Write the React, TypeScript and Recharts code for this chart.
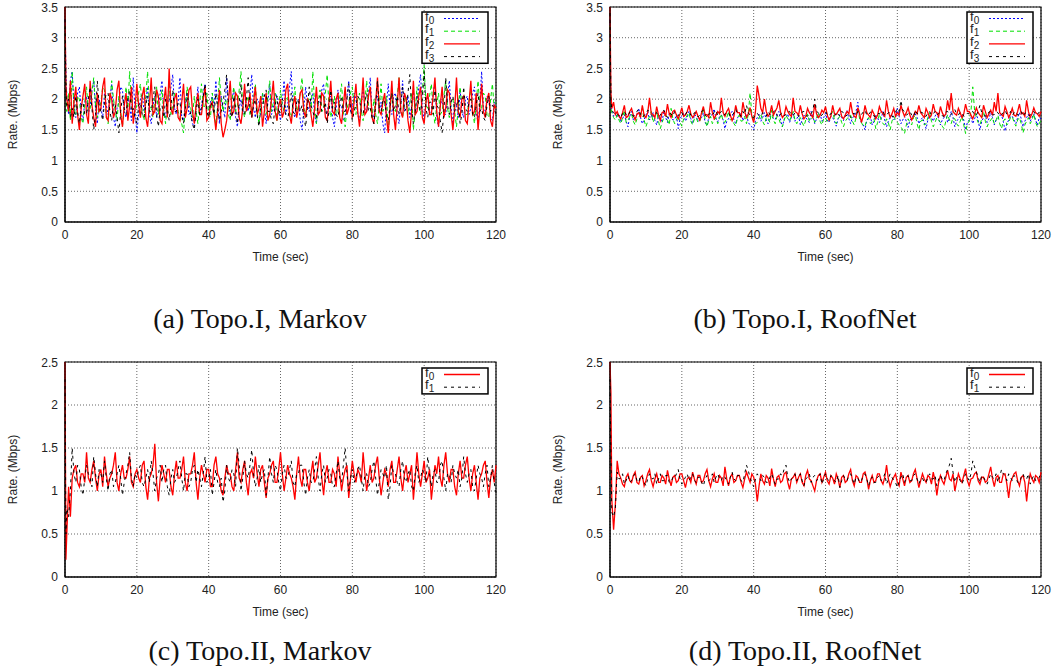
import React from 'react';
import { LineChart, Line, XAxis, YAxis, CartesianGrid, ReferenceArea } from 'recharts';

// sample times (sec): dense at start-up, then every half second
const TIME = [
  0, 0.25, 0.5, 1, 1.5,
  2, 2.5, 3, 3.5, 4, 4.5, 5, 5.5, 6, 6.5,
  7, 7.5, 8, 8.5, 9, 9.5, 10, 10.5, 11, 11.5,
  12, 12.5, 13, 13.5, 14, 14.5, 15, 15.5, 16, 16.5,
  17, 17.5, 18, 18.5, 19, 19.5, 20, 20.5, 21, 21.5,
  22, 22.5, 23, 23.5, 24, 24.5, 25, 25.5, 26, 26.5,
  27, 27.5, 28, 28.5, 29, 29.5, 30, 30.5, 31, 31.5,
  32, 32.5, 33, 33.5, 34, 34.5, 35, 35.5, 36, 36.5,
  37, 37.5, 38, 38.5, 39, 39.5, 40, 40.5, 41, 41.5,
  42, 42.5, 43, 43.5, 44, 44.5, 45, 45.5, 46, 46.5,
  47, 47.5, 48, 48.5, 49, 49.5, 50, 50.5, 51, 51.5,
  52, 52.5, 53, 53.5, 54, 54.5, 55, 55.5, 56, 56.5,
  57, 57.5, 58, 58.5, 59, 59.5, 60, 60.5, 61, 61.5,
  62, 62.5, 63, 63.5, 64, 64.5, 65, 65.5, 66, 66.5,
  67, 67.5, 68, 68.5, 69, 69.5, 70, 70.5, 71, 71.5,
  72, 72.5, 73, 73.5, 74, 74.5, 75, 75.5, 76, 76.5,
  77, 77.5, 78, 78.5, 79, 79.5, 80, 80.5, 81, 81.5,
  82, 82.5, 83, 83.5, 84, 84.5, 85, 85.5, 86, 86.5,
  87, 87.5, 88, 88.5, 89, 89.5, 90, 90.5, 91, 91.5,
  92, 92.5, 93, 93.5, 94, 94.5, 95, 95.5, 96, 96.5,
  97, 97.5, 98, 98.5, 99, 99.5, 100, 100.5, 101, 101.5,
  102, 102.5, 103, 103.5, 104, 104.5, 105, 105.5, 106, 106.5,
  107, 107.5, 108, 108.5, 109, 109.5, 110, 110.5, 111, 111.5,
  112, 112.5, 113, 113.5, 114, 114.5, 115, 115.5, 116, 116.5,
  117, 117.5, 118, 118.5, 119, 119.5, 120,
];

const X_TICKS = [0, 20, 40, 60, 80, 100, 120];
const Y_TICKS_I = [0, 0.5, 1, 1.5, 2, 2.5, 3, 3.5];
const Y_TICKS_II = [0, 0.5, 1, 1.5, 2, 2.5];

// (a) Topo.I, Markov
const A_F0 = [
  3.3, 2.5, 2.05, 1.75, 2.3,
  2.45, 1.9, 1.7, 2.1, 2.2, 1.8, 1.65, 1.95, 2.05, 1.75,
  1.9, 2.15, 2.3, 1.85, 1.6, 2.0, 1.85, 1.7, 2.1, 1.9,
  1.75, 2.0, 2.25, 1.7, 1.55, 1.85, 1.95, 2.2, 2.15, 1.8,
  1.7, 2.05, 1.9, 1.65, 2.35, 1.8, 1.45, 1.75, 2.0, 2.1,
  1.8, 1.95, 2.2, 1.75, 1.6, 1.9, 2.05, 1.7, 1.85, 2.1,
  2.3, 1.8, 1.7, 2.0, 1.95, 2.2, 2.4, 1.85, 1.75, 1.95,
  2.35, 1.7, 1.65, 1.95, 2.1, 1.75, 1.8, 1.6, 1.55, 1.9,
  2.2, 1.75, 1.9, 2.1, 2.25, 1.8, 1.7, 1.95, 2.05, 1.85,
  2.3, 1.9, 1.6, 2.05, 1.85, 1.7, 2.35, 1.95, 1.75, 2.0,
  2.15, 1.7, 1.55, 1.85, 2.0, 1.75, 2.2, 1.9, 1.8, 2.1,
  2.4, 1.85, 1.7, 2.0, 1.95, 1.75, 2.1, 1.85, 1.6, 1.95,
  2.25, 1.75, 1.85, 2.1, 2.05, 1.8, 1.65, 1.95, 2.3, 1.75,
  1.9, 2.2, 2.45, 1.8, 1.7, 1.95, 2.0, 1.65, 1.5, 1.85,
  2.2, 1.9, 1.8, 2.0, 2.1, 1.75, 1.6, 1.9, 1.95, 2.15,
  2.25, 1.8, 1.75, 2.0, 2.05, 1.7, 1.55, 1.85, 2.15, 1.9,
  1.9, 1.65, 1.7, 2.05, 2.3, 1.8, 1.85, 2.1, 2.0, 1.75,
  1.65, 1.95, 2.2, 1.85, 1.8, 2.1, 2.35, 1.75, 1.7, 2.0,
  2.05, 1.8, 1.95, 1.6, 1.45, 1.9, 2.25, 1.85, 1.75, 2.05,
  2.1, 1.75, 1.6, 1.95, 2.3, 1.8, 1.85, 2.05, 1.7, 1.9,
  2.15, 1.8, 1.9, 2.2, 2.4, 1.85, 1.65, 1.95, 2.05, 1.75,
  1.8, 2.1, 2.25, 1.7, 1.55, 1.9, 2.0, 1.75, 1.75, 2.05,
  2.3, 1.85, 1.6, 1.95, 1.9, 1.7, 2.15, 1.8, 1.7, 2.0,
  2.05, 1.75, 1.85, 2.1, 2.2, 1.8, 1.6, 1.95, 2.45, 1.85,
  1.75, 2.05, 2.0, 1.7, 1.65, 1.95, 1.9,
];
const A_F1 = [
  3.2, 2.3, 1.8, 2.1, 1.65,
  2.45, 1.85, 1.75, 2.05, 2.0, 1.7, 1.6, 1.95, 2.2, 1.8,
  1.85, 2.1, 2.35, 1.9, 1.7, 1.85, 1.95, 2.2, 2.15, 1.75,
  1.6, 1.95, 2.3, 2.0, 1.8, 1.65, 2.05, 1.8, 1.55, 1.9,
  2.2, 1.85, 2.45, 2.0, 1.7, 1.8, 1.9, 2.1, 2.25, 1.8,
  1.65, 2.05, 2.45, 1.9, 1.85, 1.7, 2.0, 2.2, 1.75, 1.95,
  2.15, 1.8, 1.6, 1.9, 2.3, 1.75, 1.9, 2.1, 2.05, 1.8,
  1.7, 1.6, 1.45, 1.85, 2.2, 1.95, 1.85, 1.7, 2.05, 1.8,
  1.6, 1.95, 2.25, 1.85, 1.9, 2.1, 1.75, 1.7, 2.1, 1.85,
  1.55, 1.9, 2.35, 2.0, 1.8, 1.95, 2.0, 1.75, 1.65, 2.0,
  2.2, 1.8, 1.9, 2.15, 2.45, 1.85, 1.7, 1.95, 2.05, 1.75,
  1.85, 2.0, 2.25, 1.8, 1.6, 1.9, 2.1, 1.85, 1.75, 2.05,
  2.3, 1.8, 1.95, 2.1, 1.65, 1.85, 2.15, 1.9, 1.8, 2.0,
  2.05, 1.8, 1.7, 1.95, 2.2, 1.75, 1.9, 2.1, 2.35, 1.85,
  1.75, 2.0, 2.0, 1.8, 2.45, 1.9, 1.6, 1.95, 2.15, 1.8,
  1.85, 2.1, 2.4, 1.9, 1.7, 1.85, 2.05, 1.75, 1.8, 2.0,
  2.25, 1.8, 1.55, 1.85, 1.95, 2.1, 2.2, 1.85, 1.75, 2.0,
  2.1, 1.8, 1.65, 1.95, 2.3, 1.9, 1.85, 1.7, 2.0, 1.75,
  1.6, 1.9, 2.25, 1.8, 1.9, 2.05, 1.5, 1.8, 2.15, 1.85,
  1.8, 2.05, 2.35, 1.85, 1.7, 1.95, 2.05, 1.75, 1.95, 2.1,
  1.5, 1.8, 2.2, 1.9, 1.75, 2.1, 2.55, 1.9, 1.85, 2.05,
  2.25, 1.8, 1.6, 1.9, 2.1, 1.75, 1.8, 2.05, 2.3, 1.85,
  1.7, 1.95, 2.0, 1.8, 1.55, 1.85, 2.2, 1.9, 1.9, 1.75,
  1.75, 2.0, 2.15, 1.8, 1.6, 1.95, 2.3, 1.85, 1.85, 2.1,
  2.05, 1.75, 1.7, 2.0, 2.25, 1.85, 1.95,
];
const A_F2 = [
  3.5, 2.2, 2.0, 1.8, 2.3,
  1.6, 1.95, 2.2, 1.75, 1.5, 1.85, 2.05, 2.25, 1.75, 1.6,
  2.3, 1.9, 1.7, 1.55, 2.1, 1.8, 1.85, 2.2, 2.35, 1.7,
  1.65, 2.1, 2.0, 1.7, 1.8, 2.15, 2.3, 1.75, 1.55, 1.9,
  2.1, 1.65, 1.9, 2.2, 1.6, 1.85, 2.25, 1.9, 1.7, 2.05,
  2.2, 1.7, 1.55, 1.9, 2.35, 1.75, 1.8, 2.15, 2.05, 1.65,
  1.6, 1.95, 2.2, 1.7, 2.5, 1.85, 1.75, 2.0, 2.1, 1.7,
  1.65, 1.95, 2.25, 1.7, 1.85, 2.15, 2.2, 1.8, 1.6, 1.9,
  2.1, 1.75, 1.75, 2.0, 2.2, 1.65, 1.7, 1.9, 1.95, 1.75,
  1.5, 1.8, 2.15, 1.6, 1.38, 1.5, 1.65, 1.95, 2.3, 1.75,
  1.8, 2.1, 2.05, 1.7, 1.6, 1.85, 2.25, 1.8, 1.9, 2.1,
  1.7, 1.95, 2.2, 1.75, 1.85, 2.05, 1.55, 1.8, 2.1, 1.65,
  1.75, 2.0, 2.3, 1.8, 1.65, 1.9, 2.0, 1.7, 1.8, 2.15,
  2.25, 1.75, 1.6, 1.9, 2.05, 1.7, 1.85, 2.1, 2.15, 1.8,
  1.7, 2.0, 1.95, 1.75, 1.55, 1.85, 2.2, 1.75, 1.8, 2.1,
  2.05, 1.7, 1.65, 1.95, 2.3, 1.8, 1.75, 2.0, 2.1, 1.7,
  1.6, 1.9, 2.2, 1.75, 1.85, 2.05, 1.7, 1.95, 2.25, 1.8,
  1.55, 1.9, 2.35, 1.75, 1.8, 2.05, 2.2, 1.7, 1.6, 1.95,
  2.35, 1.8, 1.75, 1.95, 2.1, 1.7, 1.45, 1.85, 2.3, 1.75,
  1.5, 1.9, 2.35, 1.8, 1.7, 2.1, 2.0, 1.65, 1.45, 1.8,
  2.3, 1.75, 1.8, 2.05, 2.2, 1.7, 1.6, 1.95, 2.1, 1.75,
  1.75, 2.05, 2.35, 1.8, 1.55, 1.9, 2.2, 1.7, 1.85, 2.15,
  2.1, 1.75, 1.5, 1.85, 2.35, 1.8, 1.7, 2.0, 2.05, 1.65,
  1.6, 1.95, 2.3, 1.75, 1.8, 2.1, 1.5, 1.85, 2.25, 1.8,
  1.7, 2.0, 2.1, 1.65, 1.55, 1.9, 1.85,
];
const A_F3 = [
  3.3, 2.1, 1.9, 2.0, 1.7,
  1.85, 1.7, 2.05, 1.8, 1.6, 1.9, 1.95, 1.75, 1.75, 2.0,
  2.2, 1.85, 1.5, 1.75, 2.3, 1.9, 1.8, 1.65, 1.95, 2.1,
  2.1, 1.8, 1.65, 1.95, 1.9, 1.7, 1.45, 1.8, 2.05, 1.85,
  1.75, 2.0, 2.15, 1.8, 1.85, 1.7, 1.6, 1.9, 1.95, 1.75,
  1.7, 1.9, 2.05, 1.8, 1.8, 2.0, 2.2, 1.75, 1.55, 1.85,
  1.9, 1.7, 2.0, 1.85, 1.65, 1.9, 2.15, 1.8, 1.8, 1.95,
  1.95, 1.75, 1.6, 1.85, 2.1, 1.9, 1.75, 1.6, 1.5, 1.8,
  2.0, 1.75, 1.85, 2.05, 2.25, 1.8, 1.7, 1.95, 1.9, 1.75,
  2.1, 1.85, 1.65, 1.8, 1.95, 2.15, 2.4, 1.9, 1.8, 1.7,
  2.05, 1.85, 1.6, 1.95, 2.25, 1.8, 1.75, 2.0, 2.35, 1.85,
  1.7, 1.9, 2.0, 1.75, 1.55, 1.85, 1.9, 2.05, 2.15, 1.8,
  1.8, 1.65, 1.6, 1.9, 2.05, 1.75, 1.85, 2.0, 1.95, 1.7,
  1.65, 1.9, 2.1, 1.8, 1.75, 1.95, 2.0, 1.8, 1.9, 1.7,
  1.55, 1.85, 2.2, 1.9, 1.8, 1.7, 1.7, 1.95, 2.05, 1.8,
  1.85, 1.95, 1.6, 1.8, 2.15, 1.85, 1.95, 1.75, 1.7, 1.9,
  2.05, 1.8, 1.8, 2.0, 2.25, 1.85, 1.65, 1.8, 1.9, 2.05,
  2.0, 1.8, 1.75, 1.95, 2.1, 1.8, 1.85, 1.7, 1.6, 1.9,
  2.3, 1.85, 1.8, 2.0, 1.95, 1.75, 1.65, 1.9, 2.1, 1.8,
  1.9, 2.05, 1.75, 1.9, 2.2, 1.8, 1.85, 2.1, 2.4, 1.85,
  1.6, 1.8, 2.05, 1.9, 1.8, 2.0, 2.45, 1.85, 1.7, 1.95,
  1.95, 1.75, 2.15, 1.9, 1.85, 1.65, 1.45, 1.8, 2.35, 1.9,
  1.75, 1.95, 2.05, 1.8, 1.9, 2.0, 1.6, 1.75, 2.2, 1.85,
  1.8, 1.95, 2.0, 1.75, 1.7, 1.9, 2.1, 1.8, 1.85, 1.7,
  1.65, 1.9, 2.05, 1.8, 1.9, 1.85, 1.75,
];

// (b) Topo.I, RoofNet
const B_F0 = [
  3.3, 2.0, 1.8, 1.72, 1.78,
  1.7, 1.76, 1.62, 1.68, 1.75, 1.64, 1.55, 1.72, 1.8, 1.66,
  1.68, 1.74, 1.85, 1.7, 1.6, 1.67, 1.74, 1.8, 1.66, 1.72,
  1.78, 1.65, 1.58, 1.73, 1.7, 1.62, 1.82, 1.7, 1.62, 1.76,
  1.75, 1.66, 1.67, 1.74, 1.52, 1.68, 1.73, 1.78, 1.64, 1.7,
  1.8, 1.68, 1.6, 1.75, 1.72, 1.64, 1.66, 1.7, 1.78, 1.62,
  1.57, 1.7, 1.7, 1.76, 1.84, 1.68, 1.63, 1.72, 1.74, 1.66,
  1.52, 1.64, 1.68, 1.75, 1.8, 1.66, 1.6, 1.7, 1.72, 1.78,
  1.65, 1.7, 1.76, 1.62, 1.58, 1.55, 1.5, 1.64, 1.7, 1.75,
  1.64, 1.7, 1.78, 1.66, 1.6, 1.72, 1.73, 1.68, 1.67, 1.75,
  1.8, 1.66, 1.55, 1.68, 1.7, 1.76, 1.62, 1.7, 1.76, 1.64,
  1.68, 1.74, 1.58, 1.66, 1.74, 1.7, 1.66, 1.62, 1.8, 1.72,
  1.6, 1.68, 1.72, 1.76, 1.64, 1.7, 1.77, 1.66, 1.62, 1.72,
  1.7, 1.64, 1.56, 1.68, 1.75, 1.7, 1.65, 1.74, 1.82, 1.68,
  1.6, 1.7, 1.72, 1.8, 1.95, 1.7, 1.62, 1.58, 1.5, 1.66,
  1.68, 1.72, 1.58, 1.64, 1.74, 1.7, 1.62, 1.68, 1.8, 1.66,
  1.55, 1.64, 1.7, 1.76, 1.66, 1.7, 1.85, 1.72, 1.6, 1.66,
  1.72, 1.64, 1.54, 1.66, 1.68, 1.74, 1.76, 1.7, 1.6, 1.66,
  1.7, 1.62, 1.52, 1.66, 1.74, 1.7, 1.64, 1.72, 1.78, 1.68,
  1.58, 1.66, 1.7, 1.76, 1.62, 1.68, 1.8, 1.7, 1.55, 1.64,
  1.68, 1.72, 1.74, 1.66, 1.5, 1.62, 1.66, 1.7, 1.6, 1.68,
  1.76, 1.66, 1.5, 1.64, 1.7, 1.74, 1.62, 1.68, 1.78, 1.7,
  1.58, 1.66, 1.68, 1.74, 1.74, 1.64, 1.48, 1.6, 1.66, 1.72,
  1.72, 1.66, 1.6, 1.7, 1.78, 1.68, 1.55, 1.64, 1.7, 1.76,
  1.64, 1.7, 1.76, 1.66, 1.58, 1.7, 1.68,
];
const B_F1 = [
  3.2, 1.95, 1.78, 1.7, 1.66,
  1.74, 1.66, 1.6, 1.7, 1.82, 1.62, 1.65, 1.72, 1.76, 1.64,
  1.58, 1.68, 1.7, 1.76, 1.85, 1.66, 1.55, 1.64, 1.72, 1.8,
  1.62, 1.7, 1.8, 1.64, 1.52, 1.62, 1.7, 1.75, 1.66, 1.58,
  1.85, 1.68, 1.6, 1.66, 1.74, 1.62, 1.56, 1.68, 1.68, 1.74,
  1.78, 1.64, 1.58, 1.68, 1.7, 1.62, 1.64, 1.74, 1.86, 1.66,
  1.55, 1.66, 1.72, 1.6, 1.66, 1.7, 1.6, 1.68, 1.76, 1.64,
  1.62, 1.7, 1.8, 1.66, 1.68, 1.6, 1.56, 1.7, 1.74, 1.64,
  1.65, 1.72, 1.6, 1.75, 2.1, 1.74, 1.7, 1.6, 1.62, 1.7,
  1.76, 1.64, 1.58, 1.7, 1.7, 1.62, 1.82, 1.66, 1.6, 1.72,
  1.68, 1.6, 1.55, 1.66, 1.74, 1.68, 1.64, 1.72, 1.8, 1.66,
  1.6, 1.68, 1.7, 1.62, 1.56, 1.66, 1.76, 1.64, 1.66, 1.72,
  1.62, 1.7, 1.78, 1.64, 1.58, 1.68, 1.7, 1.62, 1.65, 1.74,
  1.8, 1.66, 1.6, 1.68, 1.72, 1.62, 1.55, 1.64, 1.68, 1.72,
  1.74, 1.64, 1.58, 1.7, 1.85, 1.68, 1.62, 1.56, 1.56, 1.66,
  1.7, 1.6, 1.64, 1.68, 1.52, 1.62, 1.76, 1.66, 1.6, 1.58,
  1.68, 1.62, 1.5, 1.64, 1.72, 1.66, 1.62, 1.58, 1.55, 1.5,
  1.44, 1.58, 1.68, 1.62, 1.58, 1.7, 1.74, 1.6, 1.5, 1.64,
  1.66, 1.58, 1.6, 1.7, 1.78, 1.64, 1.55, 1.62, 1.7, 1.66,
  1.62, 1.56, 1.52, 1.64, 1.75, 1.66, 1.6, 1.7, 1.68, 1.6,
  1.56, 1.64, 1.72, 1.58, 1.44, 1.6, 1.64, 1.8, 2.2, 1.82,
  1.7, 1.62, 1.58, 1.68, 1.8, 1.64, 1.55, 1.62, 1.66, 1.7,
  1.6, 1.66, 1.74, 1.6, 1.52, 1.64, 1.68, 1.58, 1.62, 1.7,
  1.72, 1.62, 1.56, 1.66, 1.7, 1.6, 1.45, 1.58, 1.64, 1.7,
  1.6, 1.66, 1.76, 1.62, 1.55, 1.6, 1.66,
];
const B_F2 = [
  3.5, 2.1, 1.85, 1.95, 1.75,
  1.8, 1.72, 1.68, 1.78, 1.9, 1.7, 1.72, 1.8, 1.85, 1.74,
  1.66, 1.76, 1.78, 1.7, 1.9, 1.74, 1.7, 1.78, 2.02, 1.76,
  1.75, 1.7, 1.88, 1.74, 1.65, 1.78, 1.8, 1.72, 1.92, 1.76,
  1.7, 1.8, 1.82, 1.74, 1.68, 1.76, 1.86, 1.72, 1.74, 1.8,
  1.9, 1.76, 1.7, 1.74, 1.8, 1.72, 1.66, 1.78, 1.88, 1.74,
  1.75, 1.7, 1.95, 1.78, 1.68, 1.74, 1.8, 1.76, 2.02, 1.78,
  1.72, 1.8, 1.85, 1.74, 1.65, 1.72, 1.9, 1.78, 1.78, 1.7,
  1.95, 1.8, 1.7, 1.76, 1.86, 1.72, 1.62, 1.8, 2.22, 2.05,
  1.85, 1.78, 2.0, 1.8, 1.72, 1.76, 1.9, 1.74, 1.8, 1.86,
  1.98, 1.78, 1.7, 1.74, 1.88, 1.8, 1.75, 1.72, 2.02, 1.8,
  1.78, 1.74, 1.9, 1.76, 1.68, 1.72, 1.85, 1.78, 1.74, 1.7,
  1.92, 1.76, 1.7, 1.74, 1.82, 1.78, 1.88, 1.74, 1.66, 1.72,
  1.9, 1.76, 1.75, 1.8, 1.85, 1.72, 1.68, 1.74, 1.8, 1.76,
  1.95, 1.78, 1.72, 1.7, 1.86, 1.76, 1.62, 1.72, 1.9, 1.78,
  1.74, 1.7, 1.82, 1.76, 1.68, 1.74, 1.88, 1.8, 1.76, 1.72,
  1.98, 1.8, 1.7, 1.76, 1.85, 1.72, 1.78, 1.74, 1.9, 1.8,
  1.72, 1.78, 1.86, 1.74, 1.66, 1.72, 1.8, 1.76, 1.9, 1.78,
  1.74, 1.7, 1.85, 1.78, 1.7, 1.74, 1.92, 1.8, 1.78, 1.72,
  1.88, 1.78, 1.72, 1.76, 1.98, 1.82, 2.1, 1.8, 1.76, 1.74,
  1.85, 1.78, 1.7, 1.76, 1.92, 1.8, 1.8, 1.74, 1.68, 1.76,
  1.86, 1.78, 1.74, 1.7, 1.9, 1.8, 1.7, 1.76, 1.82, 1.74,
  1.95, 1.8, 2.1, 1.78, 1.75, 1.72, 1.88, 1.8, 1.7, 1.76,
  1.85, 1.74, 1.72, 1.8, 1.92, 1.76, 1.78, 1.72, 1.98, 1.8,
  1.7, 1.76, 1.86, 1.78, 1.76, 1.72, 1.8,
];
const B_F3 = [
  3.4, 2.0, 1.82, 1.78, 1.74,
  1.76, 1.73, 1.7, 1.77, 1.8, 1.75, 1.72, 1.79, 1.78, 1.72,
  1.74, 1.8, 1.84, 1.75, 1.7, 1.74, 1.76, 1.82, 1.8, 1.74,
  1.72, 1.76, 1.78, 1.71, 1.74, 1.8, 1.82, 1.75, 1.7, 1.77,
  1.76, 1.72, 1.8, 1.76, 1.73, 1.79, 1.78, 1.72, 1.75, 1.8,
  1.8, 1.74, 1.72, 1.78, 1.77, 1.71, 1.74, 1.8, 1.82, 1.75,
  1.7, 1.76, 1.76, 1.73, 1.79, 1.82, 1.73, 1.77, 1.8, 1.74,
  1.75, 1.79, 1.78, 1.72, 1.72, 1.78, 1.84, 1.76, 1.76, 1.72,
  1.8, 1.75, 1.9, 1.78, 1.74, 1.7, 1.7, 1.76, 1.77, 1.73,
  1.72, 1.78, 1.76, 1.72, 1.8, 1.75, 1.74, 1.79, 1.82, 1.74,
  1.7, 1.76, 1.78, 1.73, 1.75, 1.8, 1.8, 1.74, 1.73, 1.78,
  1.77, 1.72, 1.74, 1.79, 1.8, 1.75, 1.72, 1.77, 1.76, 1.82,
  2.0, 1.8, 1.78, 1.72, 1.74, 1.78, 1.8, 1.75, 1.72, 1.77,
  1.76, 1.72, 1.79, 1.75, 1.73, 1.8, 1.78, 1.72, 1.74, 1.77,
  1.7, 1.76, 1.77, 1.73, 1.8, 1.76, 1.75, 1.79, 1.82, 1.74,
  1.74, 1.79, 1.78, 1.72, 1.72, 1.77, 1.76, 1.8, 1.8, 1.73,
  1.74, 1.78, 1.78, 1.72, 1.72, 1.79, 1.85, 1.8, 1.98, 1.82,
  1.8, 1.74, 1.76, 1.8, 1.74, 1.71, 1.82, 1.77, 1.75, 1.79,
  1.78, 1.72, 1.72, 1.78, 1.8, 1.74, 1.76, 1.8, 1.74, 1.77,
  1.78, 1.73, 1.72, 1.79, 1.8, 1.74, 1.75, 1.8, 1.83, 1.76,
  1.74, 1.79, 1.78, 1.72, 1.72, 1.77, 1.76, 1.8, 1.8, 1.74,
  1.74, 1.8, 1.9, 1.78, 1.77, 1.72, 1.72, 1.79, 1.8, 1.74,
  1.75, 1.8, 1.78, 1.73, 1.74, 1.78, 1.82, 1.75, 1.76, 1.8,
  1.73, 1.78, 1.8, 1.74, 1.76, 1.8, 1.72, 1.77, 1.78, 1.73,
  1.74, 1.79, 1.8, 1.74, 1.75, 1.79, 1.77,
];

// (c) Topo.II, Markov
const C_F0 = [
  2.5, 0.2, 0.5, 1.05, 0.7,
  1.15, 1.25, 1.3, 1.1, 1.05, 1.2, 1.2, 1.1, 1.45, 1.15,
  1.1, 1.25, 1.35, 1.15, 1.0, 1.2, 1.25, 1.05, 1.4, 1.2,
  1.05, 1.15, 1.2, 1.3, 1.45, 1.1, 1.0, 1.2, 1.3, 1.15,
  1.15, 1.25, 1.4, 1.1, 1.05, 1.2, 1.25, 1.15, 1.1, 1.3,
  1.35, 1.05, 0.9, 1.15, 1.2, 1.3, 1.55, 1.1, 0.88, 1.15,
  1.3, 1.2, 1.1, 1.25, 1.25, 1.05, 0.95, 1.2, 1.35, 1.15,
  1.15, 1.25, 1.4, 1.1, 1.0, 1.2, 1.2, 1.3, 1.45, 1.1,
  0.9, 1.15, 1.3, 1.2, 1.1, 1.25, 1.25, 1.05, 1.05, 1.3,
  1.4, 1.2, 1.15, 1.0, 0.95, 1.15, 1.3, 1.2, 1.2, 1.05,
  1.0, 1.25, 1.45, 1.15, 1.1, 1.25, 1.35, 1.1, 0.95, 1.2,
  1.25, 1.15, 1.4, 1.2, 1.05, 1.25, 1.3, 1.1, 0.92, 1.15,
  1.2, 1.3, 1.35, 1.1, 1.1, 1.25, 1.45, 1.2, 1.0, 1.15,
  1.3, 1.2, 1.15, 1.05, 0.9, 1.2, 1.4, 1.15, 1.05, 1.25,
  1.25, 1.1, 1.0, 1.2, 1.35, 1.1, 1.15, 1.3, 1.45, 1.15,
  0.95, 1.2, 1.3, 1.1, 1.1, 1.25, 1.2, 1.05, 1.4, 1.2,
  1.0, 1.15, 1.25, 1.3, 0.92, 1.15, 1.35, 1.2, 1.1, 1.25,
  1.2, 1.1, 1.45, 1.2, 1.0, 1.15, 1.3, 1.1, 1.15, 1.3,
  1.4, 1.15, 0.95, 1.1, 1.25, 1.2, 1.05, 1.25, 1.35, 1.1,
  1.1, 1.25, 1.4, 1.15, 1.0, 1.2, 1.3, 1.1, 1.2, 1.3,
  0.9, 1.15, 1.45, 1.2, 1.05, 1.2, 1.35, 1.1, 1.15, 1.25,
  0.9, 1.1, 1.3, 1.2, 1.4, 1.15, 1.05, 1.3, 1.45, 1.2,
  1.1, 1.25, 1.25, 1.05, 0.95, 1.2, 1.35, 1.15, 1.15, 1.3,
  1.4, 1.15, 1.0, 1.2, 1.3, 1.1, 0.9, 1.15, 1.2, 1.3,
  1.35, 1.1, 0.92, 1.15, 1.25, 1.1, 1.3,
];
const C_F1 = [
  2.3, 0.5, 0.8, 0.7, 1.0,
  1.5, 1.2, 1.1, 1.3, 1.25, 1.05, 0.95, 1.15, 1.3, 1.2,
  1.15, 1.05, 1.4, 1.2, 1.05, 1.25, 1.2, 1.1, 1.35, 1.15,
  1.0, 1.2, 1.25, 1.05, 1.1, 1.2, 1.3, 1.15, 0.95, 1.1,
  1.2, 1.3, 1.45, 1.15, 1.05, 1.2, 1.15, 1.25, 1.3, 1.1,
  1.05, 1.15, 1.25, 1.1, 1.35, 1.2, 1.0, 1.15, 1.2, 1.3,
  1.1, 1.25, 1.3, 1.05, 0.95, 1.15, 1.25, 1.1, 1.15, 1.25,
  1.35, 1.15, 1.0, 1.2, 1.2, 1.05, 1.1, 1.25, 1.3, 1.1,
  1.25, 1.15, 1.05, 1.2, 1.4, 1.1, 1.15, 1.25, 0.95, 1.1,
  1.25, 1.1, 1.05, 1.15, 0.87, 1.0, 1.3, 1.15, 1.1, 1.25,
  1.2, 1.05, 1.5, 1.3, 1.0, 1.15, 1.35, 1.2, 1.15, 1.3,
  1.48, 1.2, 1.05, 1.15, 1.3, 1.1, 1.2, 1.25, 0.95, 1.15,
  1.4, 1.2, 1.1, 1.3, 1.25, 1.1, 1.0, 1.2, 1.3, 1.15,
  1.15, 1.25, 1.35, 1.1, 1.05, 1.2, 1.2, 1.3, 1.3, 1.1,
  0.95, 1.15, 1.25, 1.1, 1.1, 1.25, 1.4, 1.15, 1.0, 1.2,
  1.3, 1.1, 1.15, 1.25, 1.2, 1.05, 1.05, 1.2, 1.35, 1.15,
  1.1, 1.3, 1.5, 1.2, 1.0, 1.15, 1.25, 1.1, 1.15, 1.25,
  1.3, 1.15, 1.0, 1.2, 1.2, 1.05, 1.1, 1.25, 1.35, 1.15,
  0.95, 1.1, 1.25, 1.2, 1.15, 1.3, 0.9, 1.05, 1.3, 1.2,
  1.2, 1.1, 1.05, 1.25, 1.35, 1.15, 1.1, 1.2, 1.25, 1.05,
  1.0, 1.2, 1.3, 1.1, 1.15, 1.25, 1.2, 1.1, 1.4, 1.2,
  1.05, 1.2, 1.25, 1.1, 1.1, 1.3, 1.35, 1.15, 1.0, 1.2,
  1.2, 1.1, 1.3, 1.2, 1.15, 1.25, 1.05, 1.15, 1.4, 1.2,
  1.1, 1.2, 1.25, 1.05, 1.0, 1.15, 1.3, 1.2, 1.15, 1.05,
  1.2, 1.3, 1.05, 1.15, 1.3, 1.1, 0.98,
];

// (d) Topo.II, RoofNet
const D_F0 = [
  2.5, 2.15, 0.9, 0.55, 0.85,
  1.35, 1.2, 1.15, 1.08, 1.05, 1.16, 1.2, 1.12, 1.1, 1.18,
  1.22, 1.1, 1.08, 1.16, 1.18, 1.06, 1.12, 1.2, 1.25, 1.12,
  1.05, 1.14, 1.2, 1.1, 1.1, 1.18, 1.15, 1.08, 1.24, 1.14,
  1.06, 1.16, 1.18, 1.1, 1.12, 1.2, 1.2, 1.12, 1.04, 1.14,
  1.16, 1.1, 1.22, 1.14, 1.08, 1.18, 1.18, 1.1, 1.12, 1.2,
  1.25, 1.12, 1.05, 1.14, 1.2, 1.1, 1.1, 1.18, 1.15, 1.06,
  1.28, 1.14, 1.06, 1.16, 1.2, 1.1, 1.12, 1.18, 1.18, 1.1,
  1.04, 1.14, 1.22, 1.16, 1.1, 1.2, 1.16, 1.08, 0.88, 1.06,
  1.2, 1.12, 1.08, 1.18, 1.15, 1.06, 1.26, 1.14, 1.05, 1.16,
  1.18, 1.1, 1.12, 1.2, 1.22, 1.1, 1.02, 1.14, 1.16, 1.2,
  1.1, 1.16, 1.2, 1.1, 1.06, 1.18, 1.24, 1.14, 1.12, 1.06,
  1.0, 1.12, 1.18, 1.2, 1.1, 1.16, 1.22, 1.12, 1.08, 1.18,
  1.15, 1.08, 1.2, 1.14, 1.04, 1.16, 1.18, 1.1, 1.12, 1.2,
  1.25, 1.12, 1.06, 1.18, 1.16, 1.1, 1.1, 1.2, 1.22, 1.14,
  1.02, 1.12, 1.18, 1.1, 1.12, 1.2, 1.2, 1.12, 1.08, 1.16,
  1.3, 1.14, 1.05, 1.12, 1.16, 1.2, 1.1, 1.06, 1.22, 1.14,
  1.06, 1.16, 1.18, 1.1, 1.12, 1.2, 1.25, 1.14, 1.04, 1.12,
  1.2, 1.14, 1.1, 1.18, 1.16, 1.08, 1.22, 1.12, 0.95, 1.1,
  1.18, 1.12, 1.08, 1.16, 1.24, 1.14, 1.12, 1.2, 1.0, 1.1,
  1.2, 1.14, 1.1, 1.18, 1.26, 1.12, 1.06, 1.14, 1.15, 1.2,
  1.22, 1.12, 1.08, 1.16, 1.16, 1.1, 1.12, 1.2, 1.28, 1.14,
  1.05, 1.16, 1.18, 1.1, 1.1, 1.2, 1.2, 1.08, 0.92, 1.1,
  1.15, 1.2, 1.22, 1.12, 1.06, 1.16, 1.18, 1.1, 0.88, 1.08,
  1.2, 1.14, 1.1, 1.18, 1.16, 1.1, 1.22,
];
const D_F1 = [
  2.3, 1.4, 0.75, 0.7, 0.8,
  1.22, 1.14, 1.15, 1.2, 1.08, 1.12, 1.18, 1.1, 1.12, 1.17,
  1.2, 1.12, 1.1, 1.18, 1.16, 1.1, 1.06, 1.14, 1.2, 1.15,
  1.14, 1.2, 1.08, 1.14, 1.2, 1.12, 1.12, 1.18, 1.18, 1.1,
  1.1, 1.16, 1.15, 1.2, 1.25, 1.14, 1.08, 1.12, 1.16, 1.2,
  1.12, 1.16, 1.2, 1.12, 1.1, 1.16, 1.16, 1.1, 1.06, 1.14,
  1.18, 1.12, 1.14, 1.2, 1.1, 1.16, 1.2, 1.14, 1.12, 1.18,
  1.16, 1.12, 1.08, 1.16, 1.22, 1.14, 1.12, 1.18, 1.18, 1.12,
  1.1, 1.2, 1.3, 1.24, 1.15, 1.1, 1.05, 1.14, 1.2, 1.16,
  1.12, 1.18, 1.16, 1.1, 1.1, 1.16, 1.2, 1.14, 1.08, 1.14,
  1.14, 1.2, 1.18, 1.26, 1.3, 1.16, 1.1, 1.14, 1.16, 1.2,
  1.12, 1.16, 1.2, 1.12, 1.06, 1.14, 1.16, 1.2, 1.1, 1.16,
  1.18, 1.12, 1.14, 1.2, 1.08, 1.14, 1.2, 1.14, 1.12, 1.18,
  1.16, 1.12, 1.1, 1.18, 1.04, 1.12, 1.18, 1.14, 1.12, 1.18,
  1.2, 1.14, 1.08, 1.16, 1.15, 1.1, 1.12, 1.18, 1.2, 1.14,
  1.06, 1.14, 1.16, 1.1, 1.1, 1.16, 1.18, 1.12, 1.14, 1.2,
  1.08, 1.14, 1.2, 1.16, 1.12, 1.1, 1.04, 1.12, 1.16, 1.2,
  1.1, 1.16, 1.18, 1.12, 1.12, 1.18, 1.2, 1.14, 1.08, 1.14,
  1.15, 1.1, 1.1, 1.16, 1.2, 1.14, 1.14, 1.18, 1.06, 1.14,
  1.18, 1.14, 1.12, 1.2, 1.25, 1.3, 1.38, 1.22, 1.1, 1.16,
  1.16, 1.12, 1.08, 1.14, 1.2, 1.16, 1.12, 1.2, 1.35, 1.28,
  1.22, 1.16, 1.1, 1.18, 1.16, 1.12, 1.08, 1.14, 1.2, 1.16,
  1.14, 1.2, 1.1, 1.16, 1.25, 1.2, 1.18, 1.12, 1.2, 1.16,
  1.12, 1.18, 1.16, 1.1, 1.1, 1.16, 1.2, 1.14, 1.14, 1.2,
  1.08, 1.14, 1.18, 1.12, 1.12, 1.16, 1.2,
];

const FOUR_FLOWS = [
  { key: 'f0', sub: '0', color: '#0000ff', dash: '2 2', width: 1 },
  { key: 'f1', sub: '1', color: '#00e000', dash: '4 3', width: 1 },
  { key: 'f2', sub: '2', color: '#ff0000', dash: undefined, width: 1.3 },
  { key: 'f3', sub: '3', color: '#000000', dash: '3 4', width: 1 },
];
const TWO_FLOWS = [
  { key: 'f0', sub: '0', color: '#ff0000', dash: undefined, width: 1.3 },
  { key: 'f1', sub: '1', color: '#000000', dash: '3 4', width: 1 },
];

const tableOf = (cols: number[][]) =>
  TIME.map((t, i) => {
    const row: any = { t };
    cols.forEach((c, k) => (row['f' + k] = c[i]));
    return row;
  });

const SANS = '"Liberation Sans", Arial, sans-serif';
const tickStyle = { fontSize: 12, fill: '#222', fontFamily: SANS };

type Flow = typeof FOUR_FLOWS[number];

const LegendBox = ({ flows, left, top }: { flows: Flow[]; left: number; top: number }) => {
  const rowH = 12.7;
  const h = flows.length * rowH + 0.5;
  return (
    <svg style={{ position: 'absolute', left, top, overflow: 'visible' }} width={68} height={h + 2}>
      <rect x={1} y={1} width={66} height={h} fill="#fff" stroke="#000" strokeWidth={1.5} />
      {flows.map((f, i) => {
        const cy = 1 + 6.5 + i * rowH;
        return (
          <g key={f.key}>
            <text x={4} y={cy + 2} fontSize={13} fontFamily={SANS} fill="#222">
              f<tspan fontSize={10} dy={3}>{f.sub}</tspan>
            </text>
            <line x1={23} x2={59} y1={cy} y2={cy} stroke={f.color} strokeWidth={f.width} strokeDasharray={f.dash} />
          </g>
        );
      })}
    </svg>
  );
};

const Panel = ({ left, top, cols, flows, yMax, yTicks, caption, captionY }: {
  left: number; top: number; cols: number[][]; flows: Flow[]; yMax: number; yTicks: number[]; caption: string; captionY: number;
}) => {
  const data = tableOf(cols);
  return (
    <>
      <div style={{ position: 'absolute', left, top }}>
        <LineChart width={520} height={270} data={data} margin={{ top: 7, right: 24, left: 0, bottom: 6 }}>
          <CartesianGrid stroke="#666" strokeDasharray="1 2" />
          <XAxis
            type="number"
            dataKey="t"
            domain={[0, 120]}
            ticks={X_TICKS}
            height={42}
            tickLine={false}
            axisLine={{ stroke: '#000' }}
            tick={tickStyle}
            label={{ value: 'Time (sec)', position: 'insideBottom', offset: 3, fontSize: 12, fill: '#222', fontFamily: SANS }}
          />
          <YAxis
            type="number"
            domain={[0, yMax]}
            ticks={yTicks}
            width={65}
            tickLine={false}
            tickMargin={1}
            axisLine={{ stroke: '#000' }}
            tick={tickStyle}
            label={{ value: 'Rate. (Mbps)', angle: -90, position: 'insideLeft', offset: 13, style: { textAnchor: 'middle' }, fontSize: 12, fill: '#222', fontFamily: SANS }}
          />
          {flows.map((f) => (
            <Line
              key={f.key}
              type="linear"
              dataKey={f.key}
              stroke={f.color}
              strokeWidth={f.width}
              strokeDasharray={f.dash}
              dot={false}
              activeDot={false}
              isAnimationActive={false}
            />
          ))}
          <ReferenceArea x1={0} x2={120} y1={0} y2={yMax} fill="none" stroke="#000" strokeWidth={1.2} />
        </LineChart>
      </div>
      <LegendBox flows={flows} left={left + 421} top={top + (flows.length === 2 ? 12 : 11)} />
      <div
        style={{
          position: 'absolute',
          left: left - 20,
          top: captionY - 17,
          width: 560,
          textAlign: 'center',
          fontFamily: '"Liberation Serif", "Times New Roman", serif',
          fontSize: 28,
          lineHeight: '32px',
          color: '#111',
        }}
      >
        {caption}
      </div>
    </>
  );
};

export default function App() {
  return (
    <div style={{ position: 'absolute', left: 0, top: 0, width: 1060, height: 670, background: '#fff' }}>
      <Panel left={0} top={0} cols={[A_F0, A_F1, A_F2, A_F3]} flows={FOUR_FLOWS} yMax={3.5} yTicks={Y_TICKS_I} caption="(a) Topo.I, Markov" captionY={320} />
      <Panel left={545} top={0} cols={[B_F0, B_F1, B_F2, B_F3]} flows={FOUR_FLOWS} yMax={3.5} yTicks={Y_TICKS_I} caption="(b) Topo.I, RoofNet" captionY={320} />
      <Panel left={0} top={355} cols={[C_F0, C_F1]} flows={TWO_FLOWS} yMax={2.5} yTicks={Y_TICKS_II} caption="(c) Topo.II, Markov" captionY={652} />
      <Panel left={545} top={355} cols={[D_F0, D_F1]} flows={TWO_FLOWS} yMax={2.5} yTicks={Y_TICKS_II} caption="(d) Topo.II, RoofNet" captionY={652} />
    </div>
  );
}
